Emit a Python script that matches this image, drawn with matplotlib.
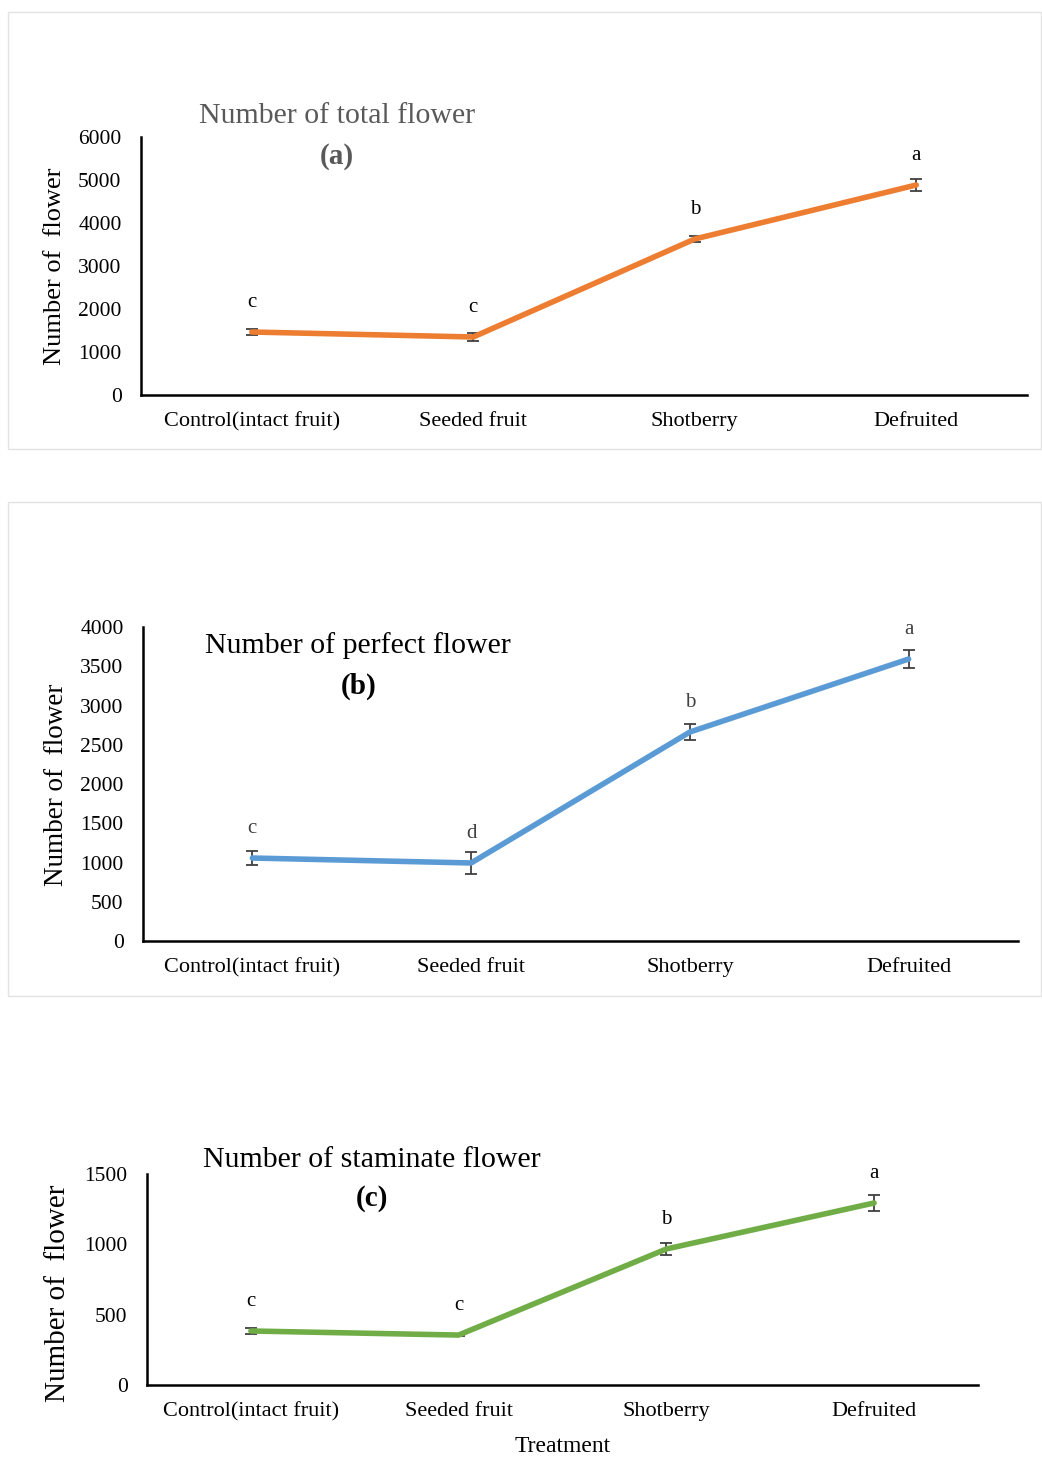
import numpy as np
import matplotlib
matplotlib.use("Agg")
import matplotlib.pyplot as plt
from matplotlib.patches import Rectangle

plt.rcParams['font.family'] = ['Liberation Serif', 'DejaVu Serif']

treatments = ["Control(intact fruit)", "Seeded fruit", "Shotberry", "Defruited"]

total_mean = [1465, 1349, 3628, 4884]
total_err = [80, 100, 60, 150]
total_letters = ["c", "c", "b", "a"]

perfect_mean = [1057, 994, 2662, 3592]
perfect_err = [90, 140, 100, 110]
perfect_letters = ["c", "d", "b", "a"]

staminate_mean = [384, 355, 967, 1294]
staminate_err = [20, 10, 40, 60]
staminate_letters = ["c", "c", "b", "a"]

W, H = 1042, 1460
fig = plt.figure(figsize=(W / 100, H / 100), dpi=100)


def px_axes(left, top, right, bottom):
    return fig.add_axes([left / W, 1 - bottom / H, (right - left) / W, (bottom - top) / H])


def draw_panel(ax, means, errs, letters, colour, ymax, ystep, letter_col):
    x = np.arange(len(treatments))
    ax.errorbar(x, means, yerr=errs, fmt='none', ecolor='#404040', elinewidth=1.3,
                capsize=4, capthick=1.3, zorder=2)
    ax.plot(x, means, color=colour, lw=4.0, solid_capstyle='round', zorder=3)
    for xi, m, lab in zip(x, means, letters):
        ax.annotate(lab, (xi, m), xytext=(0, 21), textcoords='offset points',
                    ha='center', va='center', fontsize=15, color=letter_col)
    ax.set_xlim(-0.5, 3.5)
    ax.set_ylim(0, ymax)
    ax.set_yticks(np.arange(0, ymax + 1, ystep))
    ax.set_xticks(x)
    ax.set_xticklabels(treatments, fontsize=16)
    ax.tick_params(axis='y', length=0, labelsize=15.5, pad=14)
    ax.tick_params(axis='x', length=0, pad=12)
    for s in ['top', 'right']:
        ax.spines[s].set_visible(False)
    for s in ['left', 'bottom']:
        ax.spines[s].set_linewidth(1.8)
        ax.spines[s].set_color('black')
    ax.patch.set_alpha(0)


# light frames round panels (a) and (b)
for top, bottom in [(12, 449), (502, 996)]:
    fig.patches.append(Rectangle((8 / W, 1 - bottom / H), (W - 9) / W, (bottom - top) / H,
                                 transform=fig.transFigure, fill=False,
                                 edgecolor='#e3e3e3', lw=1))

# (a) total flower
ax1 = px_axes(141, 137, 1027, 395)
draw_panel(ax1, total_mean, total_err, total_letters, '#ED7D31', 6000, 1000, 'black')
fig.text(337 / W, 1 - 116 / H, "Number of total flower", ha='center', va='center',
         fontsize=21.5, color='#595959')
fig.text(337 / W, 1 - 156 / H, "(a)", ha='center', va='center', fontsize=21,
         fontweight='bold', color='#595959')
fig.text(55 / W, 1 - 266 / H, "Number of  flower", rotation=90, ha='center',
         va='center', fontsize=19)

# (b) perfect flower
ax2 = px_axes(143, 627, 1018, 941)
draw_panel(ax2, perfect_mean, perfect_err, perfect_letters, '#5B9BD5', 4000, 500, '#404040')
fig.text(358 / W, 1 - 646 / H, "Number of perfect flower", ha='center', va='center',
         fontsize=21.5)
fig.text(359 / W, 1 - 686 / H, "(b)", ha='center', va='center', fontsize=21,
         fontweight='bold')
fig.text(57 / W, 1 - 785 / H, "Number of  flower", rotation=90, ha='center',
         va='center', fontsize=19.5)

# (c) staminate flower
ax3 = px_axes(147, 1174, 978, 1385)
draw_panel(ax3, staminate_mean, staminate_err, staminate_letters, '#70AD47', 1500, 500, 'black')
fig.text(372 / W, 1 - 1160 / H, "Number of staminate flower", ha='center', va='center',
         fontsize=21.5)
fig.text(372 / W, 1 - 1199 / H, "(c)", ha='center', va='center', fontsize=21,
         fontweight='bold')
fig.text(58 / W, 1 - 1293 / H, "Number of  flower", rotation=90, ha='center',
         va='center', fontsize=21)
fig.text(563 / W, 1 - 1447 / H, "Treatment", ha='center', va='center', fontsize=17)

fig.savefig("out.png", dpi=100)
